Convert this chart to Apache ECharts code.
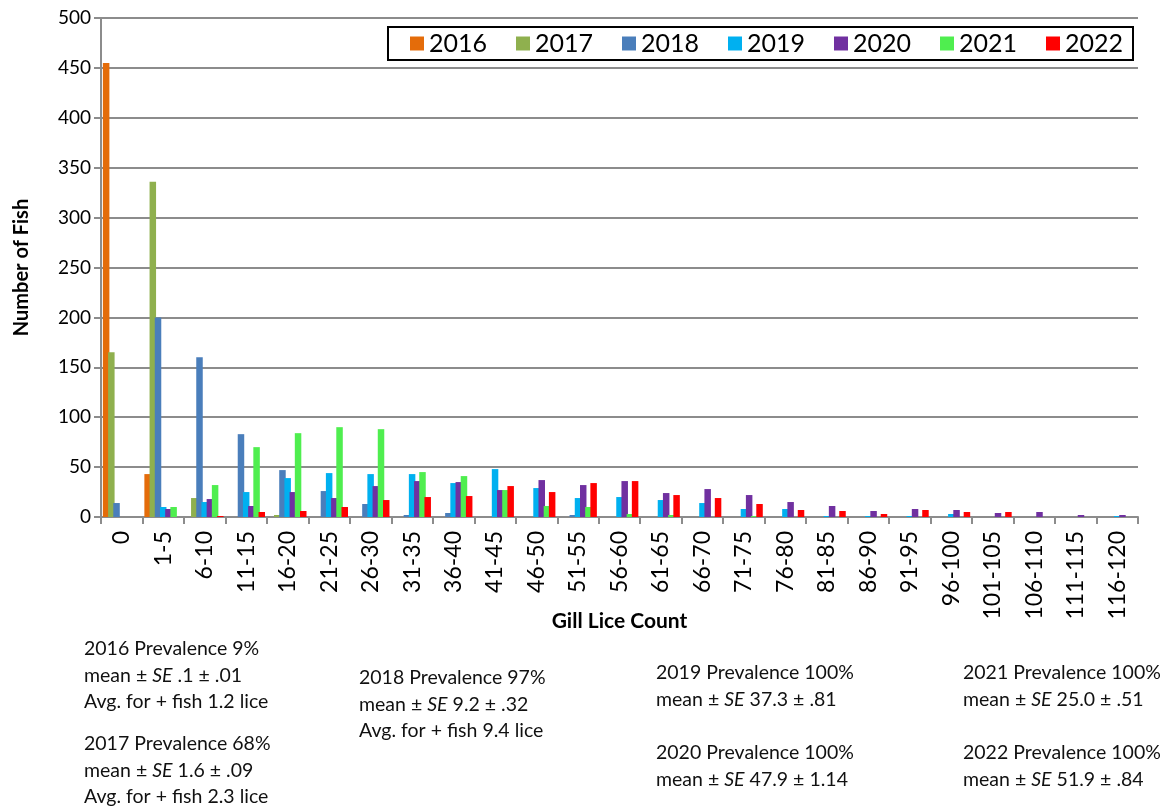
<!DOCTYPE html>
<html>
<head>
<meta charset="utf-8">
<script src="https://cdn.jsdelivr.net/npm/echarts@6/dist/echarts.min.js"></script>
<style>
  html, body { margin: 0; padding: 0; background: #fff; }
  #chart { width: 1167px; height: 811px; }
</style>
</head>
<body>
<div id="chart"></div>
<script>
const categories = ['0', '1-5', '6-10', '11-15', '16-20', '21-25', '26-30', '31-35', '36-40', '41-45',
  '46-50', '51-55', '56-60', '61-65', '66-70', '71-75', '76-80', '81-85', '86-90', '91-95',
  '96-100', '101-105', '106-110', '111-115', '116-120']

const y2016 = [455, 43, 0, 0, 0, 0, 0, 0, 0, 0, 0, 0, 0, 0, 0, 0, 0, 0, 0, 0, 0, 0, 0, 0, 0]
const y2017 = [165, 336, 19, 0, 2, 0, 0, 0, 0, 0, 0, 0, 0, 0, 0, 0, 0, 0, 0, 0, 0, 0, 0, 0, 0]
const y2018 = [14, 200, 160, 83, 47, 26, 13, 2, 4, 0, 0, 2, 0, 0, 0, 0, 0, 0, 0, 0, 0, 0, 0, 0, 0]
const y2019 = [0, 10, 15, 25, 39, 44, 43, 43, 34, 48, 29, 19, 20, 17, 14, 8, 8, 1, 1, 1, 3, 0, 0, 0, 1]
const y2020 = [0, 8, 18, 11, 25, 19, 31, 36, 35, 27, 37, 32, 36, 24, 28, 22, 15, 11, 6, 8, 7, 4, 5, 2, 2]
const y2021 = [0, 10, 32, 70, 84, 90, 88, 45, 41, 27, 11, 10, 3, 2, 0, 1, 0, 0, 0, 0, 0, 0, 0, 0, 0]
const y2022 = [0, 0, 1, 5, 6, 10, 17, 20, 21, 31, 25, 34, 36, 22, 19, 13, 7, 6, 3, 7, 5, 5, 0, 0, 0]

const yearNames = ['2016', '2017', '2018', '2019', '2020', '2021', '2022']
const yearData = [y2016, y2017, y2018, y2019, y2020, y2021, y2022]
const yearColors = ['#E46C0A', '#8FB04E', '#4A7EBB', '#00B0F0', '#7030A0', '#4FEE4F', '#FF0000']

// summary notes under the chart: [x, y, lines]
const notes = [
  [84, 650, ['2016 Prevalence 9%', 'mean ± {i|SE} .1 ± .01', 'Avg. for + fish 1.2 lice']],
  [84, 745, ['2017 Prevalence 68%', 'mean ± {i|SE} 1.6 ± .09', 'Avg. for + fish 2.3 lice']],
  [359, 679, ['2018 Prevalence 97%', 'mean ± {i|SE} 9.2 ± .32', 'Avg. for + fish 9.4 lice']],
  [656, 674, ['2019 Prevalence 100%', 'mean ± {i|SE} 37.3 ± .81']],
  [656, 754, ['2020 Prevalence 100%', 'mean ± {i|SE} 47.9 ± 1.14']],
  [963, 674, ['2021 Prevalence 100%', 'mean ± {i|SE} 25.0 ± .51']],
  [963, 754, ['2022 Prevalence 100%', 'mean ± {i|SE} 51.9 ± .84']]
]

const font = 'Lato, "Noto Sans", sans-serif'
const gridGray = '#8C8C8C'

const chart = echarts.init(document.getElementById('chart'))

const graphics = []
notes.forEach(([x, y, lines]) => {
  lines.forEach((line, k) => {
    graphics.push({
      type: 'text',
      left: x,
      top: y + k * 26.5 - 11,
      style: {
        text: line,
        fontFamily: font,
        fontSize: 19.5,
        fill: '#111',
        rich: {
          i: { fontStyle: 'italic', fontFamily: font, fontSize: 19.5, fill: '#111' }
        }
      }
    })
  })
})

const option = {
  backgroundColor: '#fff',
  animation: false,
  grid: {
    left: 101,
    right: 29,
    top: 18,
    bottom: 294,
    containLabel: false
  },
  legend: {
    data: yearNames,
    right: 34,
    top: 27,
    itemWidth: 14,
    itemHeight: 14,
    itemGap: 29,
    padding: [4, 10, 4, 22],
    borderColor: '#000',
    borderWidth: 2,
    backgroundColor: '#fff',
    icon: 'rect',
    textStyle: { fontFamily: font, fontSize: 25, color: '#000', padding: [0, 0, 0, 0] }
  },
  xAxis: {
    type: 'category',
    data: categories,
    name: 'Gill Lice Count',
    nameLocation: 'middle',
    nameGap: 94,
    nameMoveOverlap: false,
    nameTextStyle: { fontFamily: font, fontSize: 21, fontWeight: 'bold', color: '#000' },
    axisLine: { lineStyle: { color: gridGray, width: 2 } },
    axisTick: { show: true, length: 7, lineStyle: { color: gridGray, width: 2 } },
    axisLabel: {
      rotate: 90,
      interval: 0,
      margin: 14,
      fontFamily: font,
      fontSize: 23,
      color: '#000'
    }
  },
  yAxis: {
    type: 'value',
    min: 0,
    max: 500,
    interval: 50,
    name: 'Number of Fish',
    nameLocation: 'middle',
    nameGap: 69,
    nameTextStyle: { fontFamily: font, fontSize: 20, fontWeight: 'bold', color: '#000' },
    axisLine: { show: true, lineStyle: { color: gridGray, width: 2 } },
    axisTick: { show: true, length: 7, lineStyle: { color: gridGray, width: 2 } },
    axisLabel: { fontFamily: font, fontSize: 19, color: '#000', margin: 10 },
    splitLine: { lineStyle: { color: gridGray, width: 2 } }
  },
  series: yearNames.map((name, i) => ({
    name: name,
    type: 'bar',
    data: yearData[i],
    barWidth: 6.5,
    barGap: '-20%',
    itemStyle: { color: yearColors[i] }
  })),
  graphic: graphics
}

chart.setOption(option)
</script>
</body>
</html>
